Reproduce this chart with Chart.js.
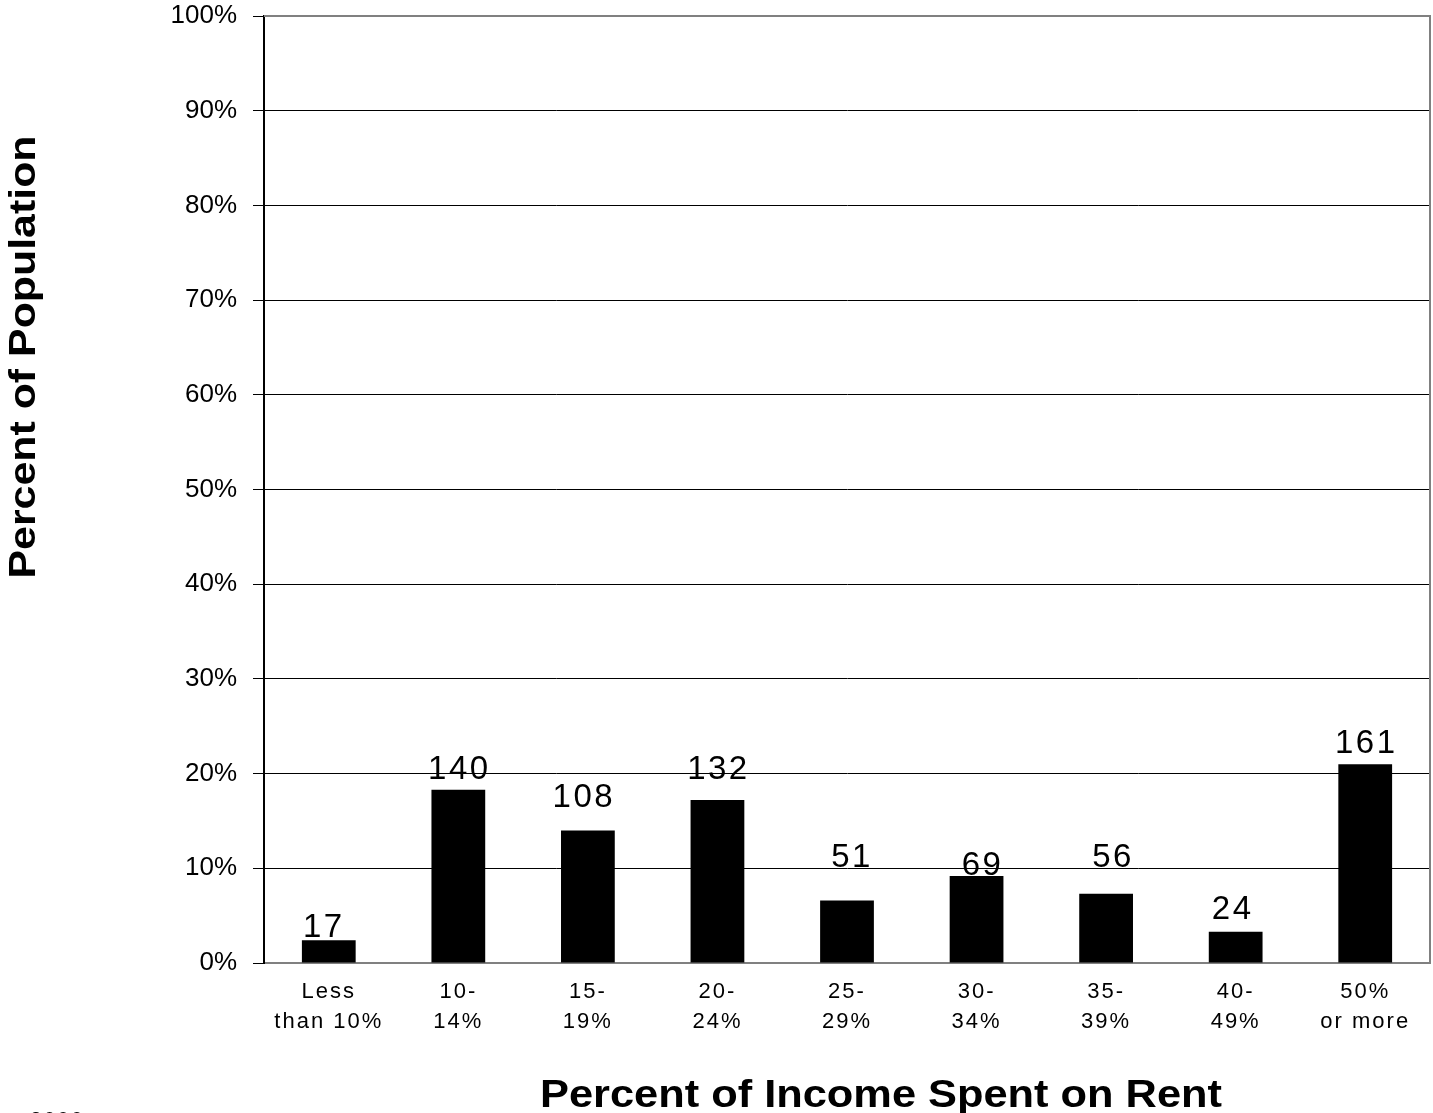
<!DOCTYPE html>
<html>
<head>
<meta charset="utf-8">
<script src="https://cdn.jsdelivr.net/npm/chart.js@4/dist/chart.umd.min.js"></script>
<style>
  html, body { margin: 0; padding: 0; background: #fff; }
  #wrap { width: 1433px; height: 1113px; position: relative; }
</style>
</head>
<body>
<div id="wrap"><canvas id="c" width="1433" height="1113"></canvas></div>
<script>
// ---- data ----
const categories = [
  ["Less", "than 10%"], ["10-", "14%"], ["15-", "19%"], ["20-", "24%"],
  ["25-", "29%"], ["30-", "34%"], ["35-", "39%"], ["40-", "49%"], ["50%", "or more"]
];
const percentOfPopulation = [2.4, 18.3, 14.0, 17.2, 6.6, 9.2, 7.3, 3.3, 21.0];
const countLabels = [17, 140, 108, 132, 51, 69, 56, 24, 161];
const yTickValues = [0, 10, 20, 30, 40, 50, 60, 70, 80, 90, 100];
const xTitle = "Percent of Income Spent on Rent";
const yTitle = "Percent of Population";
const footnote = "2000";

// ---- styling ----
const FONT = "'Liberation Sans', Arial, Helvetica, sans-serif";
const GRAY = '#808080';
// label nudges (pixels) relative to the top of each bar: [dx, gap above bar]
const labelNudge = [[-6, 3], [0, 11], [-5, 23], [0, 21], [4, 33], [5, 1], [6, 27], [-4, 13], [0, 11]];

const decorPlugin = {
  id: 'decor',
  beforeDraw(chart) {
    chart.ctx.letterSpacing = '0px';
    const s = chart.scales.x;
    if (s && !s._lsWrapped) {
      const orig = s.drawLabels.bind(s);
      s.drawLabels = function (area) {
        const ctx = this.ctx;
        ctx.save();
        ctx.letterSpacing = '2px';
        orig(area);
        ctx.restore();
      };
      s._lsWrapped = true;
    }
  },
  beforeDatasetsDraw(chart) {
    const { ctx, chartArea: a } = chart;
    ctx.save();
    ctx.strokeStyle = GRAY;
    ctx.lineWidth = 2;
    ctx.beginPath();
    ctx.moveTo(a.left, a.top);
    ctx.lineTo(a.right, a.top);
    ctx.lineTo(a.right, a.bottom);
    ctx.stroke();
    ctx.restore();
  },
  afterDraw(chart) {
    const { ctx } = chart;
    const meta = chart.getDatasetMeta(0);
    ctx.save();
    ctx.letterSpacing = '2.5px';
    ctx.fillStyle = '#000';
    ctx.font = `33px ${FONT}`;
    ctx.textAlign = 'center';
    ctx.textBaseline = 'alphabetic';
    meta.data.forEach((bar, i) => {
      const n = labelNudge[i] || [0, 10];
      ctx.fillText(String(countLabels[i]), bar.x + n[0] + 1, bar.y - n[1]);
    });
    ctx.restore();

    // axis titles (stretched horizontally like the original)
    ctx.save();
    ctx.letterSpacing = '0px';
    ctx.fillStyle = '#000';
    ctx.font = `bold 39px ${FONT}`;
    ctx.textAlign = 'center';
    ctx.textBaseline = 'alphabetic';
    let w = ctx.measureText(xTitle).width;
    ctx.translate(881, 1107);
    ctx.scale(682 / w, 1);
    ctx.fillText(xTitle, 0, 0);
    ctx.restore();

    ctx.save();
    ctx.letterSpacing = '0px';
    ctx.fillStyle = '#000';
    ctx.font = `bold 36px ${FONT}`;
    ctx.textAlign = 'center';
    ctx.textBaseline = 'alphabetic';
    w = ctx.measureText(yTitle).width;
    ctx.translate(35, 357);
    ctx.rotate(-Math.PI / 2);
    ctx.scale(443 / w, 1);
    ctx.fillText(yTitle, 0, 0);
    ctx.restore();

    ctx.save();
    ctx.letterSpacing = '2px';
    ctx.fillStyle = '#000';
    ctx.font = `21px ${FONT}`;
    ctx.textAlign = 'left';
    ctx.textBaseline = 'top';
    ctx.fillText(footnote, 30, 1110);
    ctx.restore();
  }
};

new Chart(document.getElementById('c'), {
  type: 'bar',
  data: {
    labels: categories,
    datasets: [{
      data: percentOfPopulation,
      backgroundColor: '#000',
      borderWidth: 0,
      barPercentage: 0.415,
      categoryPercentage: 1.0
    }]
  },
  options: {
    responsive: false,
    animation: false,
    events: [],
    layout: { padding: { top: 16, right: 3, left: 0, bottom: 0 } },
    plugins: { legend: { display: false }, tooltip: { enabled: false } },
    scales: {
      x: {
        grid: { display: false, drawTicks: false },
        border: { display: true, color: GRAY, width: 2 },
        ticks: {
          color: '#000',
          font: { family: FONT, size: 22, lineHeight: 1.36 },
          padding: 14,
          maxRotation: 0,
          autoSkip: false
        },
        afterFit(s) { s.height = 150; s.paddingLeft = 0; s.paddingRight = 0; }
      },
      y: {
        min: 0,
        max: 100,
        afterBuildTicks(s) { s.ticks = yTickValues.map(v => ({ value: v })); },
        grid: {
          color: c => (c.tick && (c.tick.value === 0 || c.tick.value === 100)) ? GRAY : '#000',
          lineWidth: 1,
          tickColor: '#000',
          tickLength: 11,
          drawTicks: true
        },
        border: { display: true, color: '#000', width: 2 },
        ticks: {
          color: '#000',
          font: { family: FONT, size: 26 },
          padding: 16,
          callback: v => v + '%'
        },
        afterFit(s) { s.width = 264; s.paddingTop = 0; s.paddingBottom = 0; }
      }
    }
  },
  plugins: [decorPlugin]
});
</script>
</body>
</html>
